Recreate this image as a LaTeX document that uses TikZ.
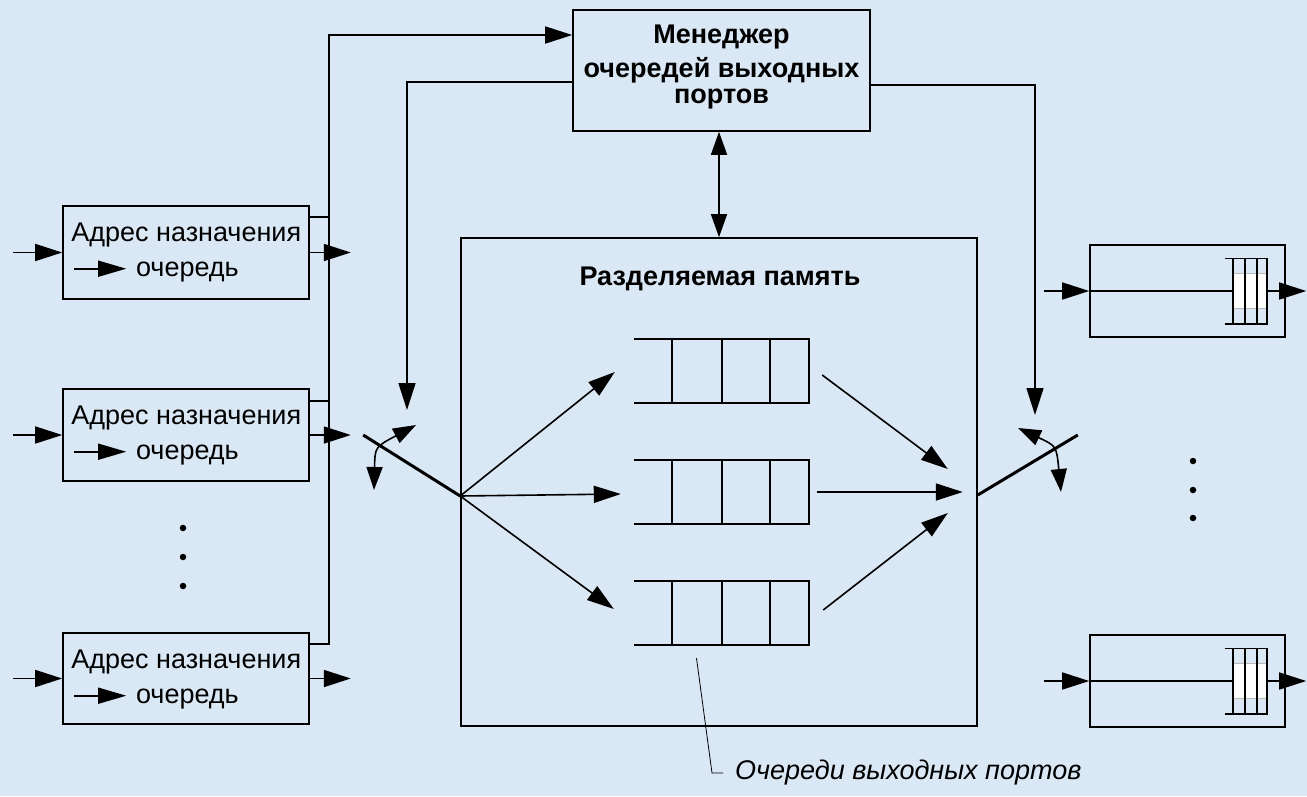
\documentclass[tikz,border=0pt]{standalone}
\usepackage{fontspec}
\setmainfont{Liberation Sans}
\usetikzlibrary{arrows.meta,calc}
\definecolor{bg}{RGB}{218,231,245}
\newcommand\qarr{\tikz[baseline={(0pt,-7.5pt)}]\draw[line width=1.6pt,-{Triangle[length=28pt,width=16pt]}] (0pt,0pt) -- (52pt,0pt);}
\begin{document}
\begin{tikzpicture}[x=1pt,y=-1pt,
  ln/.style={line width=1.6pt},
  arr/.style={ln,-{Triangle[length=27pt,width=17pt]}},
  darr/.style={ln,{Triangle[length=23pt,width=16pt]}-{Triangle[length=23pt,width=16pt]}},
  box/.style={draw,line width=1.6pt,rectangle,inner sep=0pt},
  qbox/.style={rectangle,inner sep=0pt,minimum width=175pt,minimum height=64pt},
  rqbox/.style={rectangle,inner sep=0pt,minimum width=42pt,minimum height=65pt},
  txt/.style={inner sep=0pt,font=\fontsize{27}{31}\selectfont},
  btxt/.style={inner sep=0pt,font=\fontsize{27}{31}\selectfont\bfseries},
  itxt/.style={inner sep=0pt,font=\fontsize{27}{31}\selectfont\itshape},
  dot/.style={circle,fill=black,inner sep=0pt,minimum size=6.5pt},
  swline/.style={line width=3pt},
  leader/.style={line width=0.8pt},
]
\fill[bg] (0,0) rectangle (1307,796);
\useasboundingbox (0,0) rectangle (1307,796);

% manager
\node[box,minimum width=297pt,minimum height=121pt] (mgr) at (721.5,70.5) {};
\node[btxt,anchor=base] (mgr1) at (721.5,43) {Менеджер};
\node[btxt,anchor=base] (mgr2) at (721.5,77) {очередей выходных};
\node[btxt,anchor=base] (mgr3) at (721.5,103) {портов};

% shared memory
\node[box,minimum width=516pt,minimum height=488pt] (mem) at (719,482) {};
\node[btxt,anchor=base] (memt) at (720,285) {Разделяемая память};

% queues in memory
\node[qbox] (q1) at (721.5,371) {};
\node[qbox] (q2) at (721.5,492) {};
\node[qbox] (q3) at (721.5,613) {};
\foreach \q in {q1,q2,q3}{
  \draw[ln] (\q.north west) -- (\q.north east) -- (\q.south east) -- (\q.south west);
  \foreach \f in {0.217,0.503,0.777}
    \draw[ln] ($(\q.north west)!\f!(\q.north east)$) -- ($(\q.south west)!\f!(\q.south east)$);
}

% switches
\coordinate (swL) at ($(mem.west)+(0,14)$);
\coordinate (swR) at ($(mem.east)+(0,13)$);
\draw[swline] (swL) -- ++(-97,-61);
\draw[swline] (swR) -- ++(100,-60);
\draw[darr] (416,425) .. controls (375,447) .. (374,490);
\draw[darr] (1018,428) .. controls (1056.5,446) .. (1061,492);

\draw[arr] (swL) -- ($(q1.west)+(-19,1)$);
\draw[arr] (swL) -- ($(q2.west)+(-13,2)$);
\draw[arr] (swL) -- ($(q3.west)+(-20,-4)$);
\draw[arr] ($(q1.east)+(13,4)$) -- ($(swR)+(-30,-26)$);
\draw[arr] ($(q2.east)+(8,0)$) -- ($(swR)+(-15,-3)$);
\draw[arr] ($(q3.east)+(14,-3)$) -- ($(swR)+(-30,18)$);

% manager links
\draw[darr] (mgr.south -| mem.north) -- (mem.north);
\coordinate (swLin) at (407,410);
\coordinate (swRin) at (1035,415);
\draw[arr] ($(mgr.north west)+(0,73)$) -| (swLin);
\draw[arr] ($(mgr.north east)+(0,76)$) -| (swRin);

% left boxes
\node[box,minimum width=246pt,minimum height=93pt] (b1) at (186,252.5) {};
\node[box,minimum width=246pt,minimum height=92pt] (b2) at (186,435) {};
\node[box,minimum width=246pt,minimum height=91pt] (b3) at (186,678.5) {};
\foreach \b in {b1,b2,b3}{
  \node[txt,anchor=base west] at ($(\b.north west)+(9,36)$) {Адрес назначения};
  \node[txt,anchor=base west] at ($(\b.north west)+(11,71)$) {\qarr\hspace{9pt}очередь};
  \draw[arr] ($(\b.west)+(-49,0)$) -- (\b.west);
  \draw[arr] (\b.east) -- ++(41,0);
}
% bus
\coordinate (bustop) at (329,35);
\coordinate (s1) at ($(b1.north east)+(0,12)$);
\coordinate (s2) at ($(b2.north east)+(0,13)$);
\coordinate (s3) at ($(b3.north east)+(0,12)$);
\draw[arr] (s3) -| (bustop) -- (bustop -| mgr.west);
\draw[ln] (s1) -- (s1 -| bustop);
\draw[ln] (s2) -- (s2 -| bustop);

% dots
\node[dot] (dl1) at (183,528) {};
\node[dot] (dl2) at (183,557) {};
\node[dot] (dl3) at (183,586) {};
\node[dot] (dr1) at (1193,461) {};
\node[dot] (dr2) at (1193,490) {};
\node[dot] (dr3) at (1193,518) {};

% right boxes
\node[box,minimum width=195pt,minimum height=92pt] (r1) at (1187.5,291) {};
\node[box,minimum width=195pt,minimum height=92pt] (r2) at (1187.5,681) {};
\node[rqbox] (rq1) at (1246,291) {};
\node[rqbox] (rq2) at (1246,681) {};
\foreach \r/\q in {r1/rq1,r2/rq2}{
  \coordinate (v) at ($(\q.north west)!0.19!(\q.north east)$);
  \path[fill=white,draw=gray!55,line width=0.8pt] ($(v |- \q.west)+(0,-17.5)$) rectangle ($(\q.east)+(0,17.5)$);
  \draw[ln] (\q.north west) -- (\q.north east) -- (\q.south east) -- (\q.south west);
  \foreach \f in {0.19,0.476,0.762}
    \draw[ln] ($(\q.north west)!\f!(\q.north east)$) -- ($(\q.south west)!\f!(\q.south east)$);
  \draw[arr] ($(\r.west)+(-45,0)$) -- (\r.west);
  \draw[ln] (\r.west) -- (\r.west -| v);
  \draw[arr] (\q.east) -- ++(39,0);
}

% label
\node[itxt,anchor=west] (lbl) at (735,773) {Очереди выходных портов};
\draw[leader] ($(q3.south)+(-25,13)$) -- (712,773) -- ($(lbl.west)+(-12,0)$);
\end{tikzpicture}
\end{document}
